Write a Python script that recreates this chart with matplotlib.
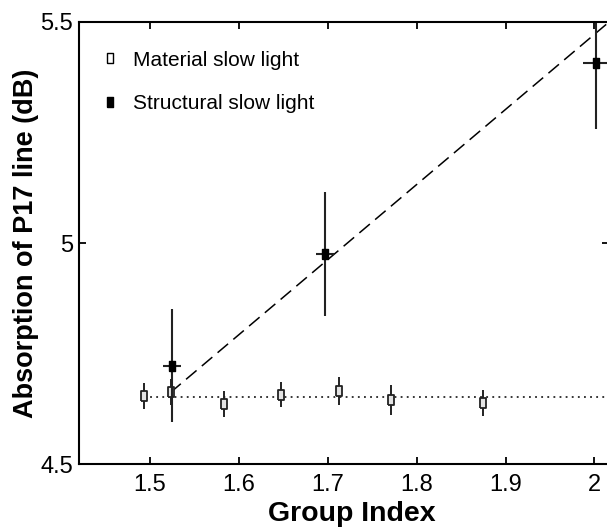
import numpy as np
import matplotlib
matplotlib.use('Agg')
import matplotlib.pyplot as plt
from matplotlib.lines import Line2D

plt.rcParams['font.family'] = ['Liberation Sans', 'DejaVu Sans']

# Material slow light (open squares)
mat_x = [1.493, 1.524, 1.583, 1.647, 1.713, 1.771, 1.875]
mat_y = [4.654, 4.663, 4.636, 4.657, 4.666, 4.646, 4.639]
mat_err = [0.029, 0.030, 0.029, 0.028, 0.032, 0.034, 0.029]

# Structural slow light (filled squares)
str_x = [1.525, 1.697, 2.002]
str_y = [4.723, 4.976, 5.408]
str_yerr = [0.127, 0.140, 0.150]
str_xerr = [0.010, 0.010, 0.015]

# guide lines
fit_x = [1.523, 2.02]
fit_y = [4.662, 5.506]
flat_x = [1.493, 2.10]
flat_y = [4.652, 4.652]

xticks = [1.5, 1.6, 1.7, 1.8, 1.9, 2.0]
xticklabels = ['1.5', '1.6', '1.7', '1.8', '1.9', '2']
yticks = [4.5, 5.0, 5.5]
yticklabels = ['4.5', '5', '5.5']

rect = [(-0.32, -0.5), (0.32, -0.5), (0.32, 0.5), (-0.32, 0.5), (-0.32, -0.5)]

fig = plt.figure(figsize=(6.07, 5.27), dpi=100)
ax = fig.add_axes([0.1297, 0.119, 0.873, 0.8393])

ax.plot(fit_x, fit_y, color='black', linestyle=(0, (9, 4.5)), linewidth=1.1)
ax.plot(flat_x, flat_y, color='black', linestyle=(0, (1.2, 2.8)), linewidth=1.1)

ax.errorbar(mat_x, mat_y, yerr=mat_err, fmt='none', ecolor='#222222',
            elinewidth=1.4, capsize=0)
ax.plot(mat_x, mat_y, linestyle='none', marker=rect, markersize=7,
        markerfacecolor='#e4e4e4', markeredgecolor='#222222', markeredgewidth=1.3)

ax.errorbar(str_x, str_y, xerr=str_xerr, yerr=str_yerr, fmt='none',
            ecolor='#222222', elinewidth=1.5, capsize=0)
ax.plot(str_x, str_y, linestyle='none', marker=rect, markersize=7,
        markerfacecolor='black', markeredgecolor='black')

ax.set_xlim(1.42, 2.016)
ax.set_ylim(4.5, 5.5)
ax.set_xticks(xticks)
ax.set_xticklabels(xticklabels)
ax.set_yticks(yticks)
ax.set_yticklabels(yticklabels)
ax.tick_params(direction='in', length=5, width=1.3, labelsize=17,
               top=True, right=True, pad=4)
ax.tick_params(axis='x', pad=7)
for s in ax.spines.values():
    s.set_linewidth(1.5)

ax.set_xlabel('Group Index', fontsize=20.5, fontweight='bold', labelpad=0)
ax.xaxis.set_label_coords(0.516, -0.084)
ax.set_ylabel('Absorption of P17 line (dB)', fontsize=19.5, fontweight='bold', labelpad=1)

handles = [
    Line2D([], [], linestyle='none', marker=rect, markersize=7,
           markerfacecolor='white', markeredgecolor='black', markeredgewidth=1.0),
    Line2D([], [], linestyle='none', marker=rect, markersize=7,
           markerfacecolor='black', markeredgecolor='black'),
]
ax.legend(handles, ['Material slow light', 'Structural slow light'],
          loc='upper left', bbox_to_anchor=(0.0283, 0.954), frameon=False,
          borderpad=0.4, borderaxespad=0, fontsize=15, handlelength=0.8,
          handletextpad=0.7, labelspacing=1.16)

fig.savefig('out.png', dpi=100)
